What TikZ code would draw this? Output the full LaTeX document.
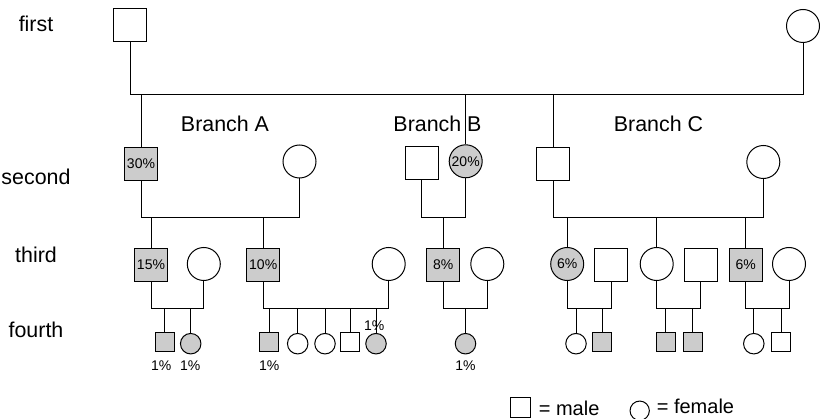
\documentclass[tikz,border=0pt]{standalone}
\usepackage{fontspec}
\setmainfont{Liberation Sans}
\begin{document}
\begin{tikzpicture}
[ x=1pt, y=-1pt, line width=1pt
, male/.style={rectangle, draw, inner sep=0pt, minimum size=33pt, font=\fontsize{14}{16}\selectfont}
, female/.style={circle, draw, inner sep=0pt, minimum size=33pt, font=\fontsize{14}{16}\selectfont}
, smallmale/.style={rectangle, draw, inner sep=0pt, minimum size=19pt}
, smallfemale/.style={circle, draw, inner sep=0pt, minimum size=20.5pt}
, affected/.style={fill=black!20}
, rowlabel/.style={anchor=base, font=\fontsize{21.4}{24}\selectfont}
, branch/.style={anchor=base, font=\fontsize{21.4}{24}\selectfont}
, pct/.style={anchor=base, font=\fontsize{14}{16}\selectfont}
, legend/.style={anchor=base west, font=\fontsize{20}{22}\selectfont}
]
\useasboundingbox (0,0) rectangle (820,419);
% Row labels:
\node (lfirst) [rowlabel] at (36,31.7) {first};
\node (lsecond) [rowlabel] at (36,185) {second};
\node (lthird) [rowlabel] at (36,262.3) {third};
\node (lfourth) [rowlabel] at (36,337.3) {fourth};
% Branch labels:
\node (brA) [branch] at (225,131.7) {Branch A};
\node (brB) [branch] at (437.5,131.7) {Branch B};
\node (brC) [branch] at (658.5,131.7) {Branch C};
% First row:
\node (g1m) [male] at (130,25.5) {};
\node (g1f) [female] at (803,26) {};
% Second row:
\node (a2m) [male, affected] at (141,164) {30\%};
\node (a2f) [female] at (299.5,161.5) {};
\node (b2m) [male] at (421.5,163.5) {};
\node (b2f) [female, affected] at (465.7,161.3) {20\%};
\node (c2m) [male] at (553.3,164) {};
\node (c2f) [female] at (763.3,162) {};
% Third row:
\node (a3m1) [male, affected] at (151,264.7) {15\%};
\node (a3f1) [female] at (203.8,264) {};
\node (a3m2) [male, affected] at (263.2,264.7) {10\%};
\node (a3f2) [female] at (388.7,264) {};
\node (b3m) [male, affected] at (443.2,264.7) {8\%};
\node (b3f) [female] at (487.3,264) {};
\node (c3f1) [female, affected] at (567.2,264) {6\%};
\node (c3m1) [male] at (611,264.7) {};
\node (c3f2) [female] at (656.7,264) {};
\node (c3m2) [male] at (700.5,264.7) {};
\node (c3m3) [male, affected] at (745.7,264.7) {6\%};
\node (c3f3) [female] at (789,264) {};
% Fourth row:
\node (a4c1) [smallmale, affected] at (164.8,342.5) {};
\node (a4c2) [smallfemale, affected] at (190.7,343.7) {};
\node (a4c3) [smallmale, affected] at (269.3,342.5) {};
\node (a4c4) [smallfemale] at (297.7,343.7) {};
\node (a4c5) [smallfemale] at (325,343.7) {};
\node (a4c6) [smallmale] at (350.3,342.5) {};
\node (a4c7) [smallfemale, affected] at (376,343.7) {};
\node (b4c1) [smallfemale, affected] at (465.5,343.7) {};
\node (c4c1) [smallfemale] at (576,343.7) {};
\node (c4c2) [smallmale, affected] at (602.3,342.5) {};
\node (c4c3) [smallmale, affected] at (665.8,342.5) {};
\node (c4c4) [smallmale, affected] at (692.5,342.5) {};
\node (c4c5) [smallfemale] at (753.8,343.7) {};
\node (c4c6) [smallmale] at (781.3,342.5) {};
% Percent labels of the fourth row:
\node (p1) [pct] at (161.3,370.7) {1\%};
\node (p2) [pct] at (190.3,370.7) {1\%};
\node (p3) [pct] at (269.3,370.7) {1\%};
\node (p4) [pct] at (374.3,330.5) {1\%};
\node (p5) [pct] at (465.5,370.7) {1\%};
% Sibship lines:
\coordinate (bar1) at (0,94.3);
\coordinate (bar2) at (0,217.3);
\coordinate (bar3) at (0,309);
\draw (g1m) -- (g1m |- bar1) -- (g1f |- bar1) -- (g1f);
\draw (a2m) -- (a2m |- bar1);
\draw (b2f) -- (b2f |- bar1);
\draw (c2m) -- (c2m |- bar1);
\draw (a2m) -- (a2m |- bar2) -- (a2f |- bar2) -- (a2f);
\draw (a3m1) -- (a3m1 |- bar2);
\draw (a3m2) -- (a3m2 |- bar2);
\draw (b2m) -- (b2m |- bar2) -- (b2f |- bar2) -- (b2f);
\draw (b3m) -- (b3m |- bar2);
\draw (c2m) -- (c2m |- bar2) -- (c2f |- bar2) -- (c2f);
\foreach \kid in {c3f1, c3f2, c3m3}
  \draw (\kid) -- (\kid |- bar2);
\draw (a3m1) -- (a3m1 |- bar3) -- (a3f1 |- bar3) -- (a3f1);
\draw (a3m2) -- (a3m2 |- bar3) -- (a3f2 |- bar3) -- (a3f2);
\draw (b3m) -- (b3m |- bar3) -- (b3f |- bar3) -- (b3f);
\draw (c3f1) -- (c3f1 |- bar3) -- (c3m1 |- bar3) -- (c3m1);
\draw (c3f2) -- (c3f2 |- bar3) -- (c3m2 |- bar3) -- (c3m2);
\draw (c3m3) -- (c3m3 |- bar3) -- (c3f3 |- bar3) -- (c3f3);
\foreach \kid in {a4c1, a4c2, a4c3, a4c4, a4c5, a4c6, a4c7, b4c1, c4c1, c4c2, c4c3, c4c4, c4c5, c4c6}
  \draw (\kid) -- (\kid |- bar3);
% Legend:
\node (keym) [rectangle, draw, inner sep=0pt, minimum size=20pt] at (520,408) {};
\node (keymtext) [legend] at (535,416) {= male};
\node (keyf) [circle, draw, inner sep=0pt, minimum size=19.3pt] at (639.7,410.7) {};
\node (keyftext) [legend] at (653,414) {= female};
\end{tikzpicture}
\end{document}
